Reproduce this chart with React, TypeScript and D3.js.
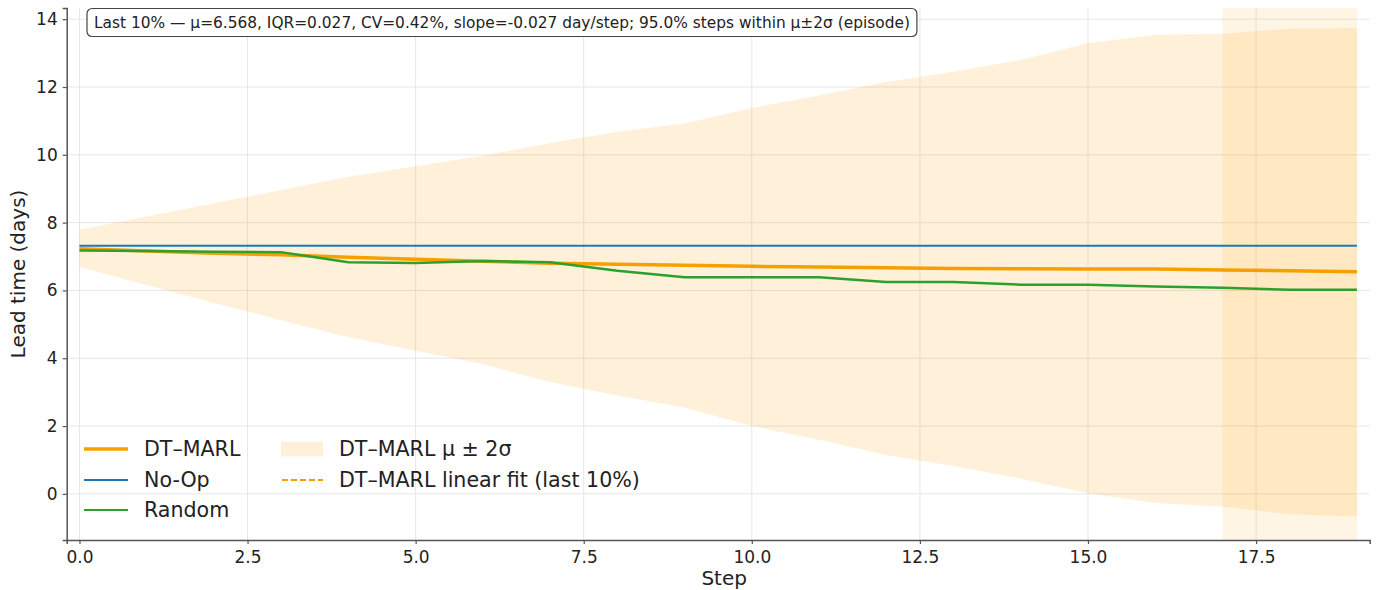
import React, { useEffect, useRef } from 'react';
import * as d3 from 'd3';

const steps = d3.range(0, 20);

// DT-MARL mean lead time per step
const dtMarl = [7.23, 7.16, 7.1, 7.05, 6.98, 6.92, 6.86, 6.8, 6.77, 6.74,
    6.71, 6.69, 6.67, 6.65, 6.64, 6.63, 6.63, 6.6, 6.582, 6.555];

// DT-MARL mu +/- 2 sigma band
const bandUpper = [7.79, 8.18, 8.57, 8.96, 9.35, 9.66, 9.97, 10.35, 10.68, 10.92,
    11.38, 11.75, 12.15, 12.45, 12.8, 13.29, 13.54, 13.57, 13.72, 13.74];
const bandLower = [6.69, 6.16, 5.63, 5.12, 4.62, 4.22, 3.82, 3.3, 2.9, 2.55,
    2.0, 1.6, 1.15, 0.82, 0.45, 0.02, -0.27, -0.37, -0.6, -0.67];

const noOp = steps.map(() => 7.32);

const random = [7.18, 7.16, 7.14, 7.13, 6.83, 6.81, 6.87, 6.83, 6.58, 6.39,
    6.39, 6.39, 6.25, 6.25, 6.17, 6.17, 6.12, 6.08, 6.02, 6.02];

// linear fit over the last 10% of the episode
const fitSteps = [18, 19];
const fitValues = [6.582, 6.555];
const lastWindow = [17, 19];

const xTicks = [0, 2.5, 5, 7.5, 10, 12.5, 15, 17.5];
const yTicks = [0, 2, 4, 6, 8, 10, 12, 14];

const summary = 'Last 10% — μ=6.568, IQR=0.027, CV=0.42%, slope=-0.027 day/step; 95.0% steps within μ±2σ (episode)';

const ORANGE = '#f5a000';
const BLUE = '#1f77b4';
const GREEN = '#2ca02c';
const FONT = 'DejaVu Sans, sans-serif';

export default function App() {
    const svgRef = useRef<SVGSVGElement>(null);

    useEffect(() => {
        if (!svgRef.current) return;
        const svg = d3.select(svgRef.current);
        svg.selectAll('*').remove();

        const x = d3.scaleLinear().domain([-0.19, 19.19]).range([66.7, 1369.7]);
        const y = d3.scaleLinear().domain([-1.36, 14.33]).range([540, 8]);

        const plot = svg.append('g');

        // grid
        plot.append('g').selectAll('line').data(xTicks).enter().append('line')
            .attr('x1', d => x(d)).attr('x2', d => x(d))
            .attr('y1', y.range()[0]).attr('y2', y.range()[1])
            .attr('stroke', '#e6e6e6').attr('stroke-width', 1);
        plot.append('g').selectAll('line').data(yTicks).enter().append('line')
            .attr('x1', x.range()[0]).attr('x2', x.range()[1])
            .attr('y1', d => y(d)).attr('y2', d => y(d))
            .attr('stroke', '#e6e6e6').attr('stroke-width', 1);

        // band
        const area = d3.area<number>()
            .x(d => x(d))
            .y0(d => y(bandLower[d]))
            .y1(d => y(bandUpper[d]));
        plot.append('path').datum(steps).attr('d', area)
            .attr('fill', '#ffa000').attr('fill-opacity', 0.15);

        // last 10% highlight
        plot.append('rect')
            .attr('x', x(lastWindow[0])).attr('width', x(lastWindow[1]) - x(lastWindow[0]))
            .attr('y', y.range()[1]).attr('height', y.range()[0] - y.range()[1])
            .attr('fill', '#ffa000').attr('fill-opacity', 0.1);

        const line = (vals: number[]) => d3.line<number>()
            .x(d => x(d))
            .y(d => y(vals[d]))(steps);

        plot.append('path').attr('d', line(dtMarl)!)
            .attr('fill', 'none').attr('stroke', ORANGE).attr('stroke-width', 3.5);
        plot.append('path').attr('d', line(noOp)!)
            .attr('fill', 'none').attr('stroke', BLUE).attr('stroke-width', 2);
        plot.append('path').attr('d', line(random)!)
            .attr('fill', 'none').attr('stroke', GREEN).attr('stroke-width', 2.5);

        const fitLine = d3.line<number>().x(d => x(fitSteps[d])).y(d => y(fitValues[d]));
        plot.append('path').attr('d', fitLine([0, 1])!)
            .attr('fill', 'none').attr('stroke', ORANGE).attr('stroke-width', 1.5)
            .attr('stroke-dasharray', '6,3');

        // axes
        const xAxis = svg.append('g').attr('transform', `translate(0,${y.range()[0]})`)
            .call(d3.axisBottom(x).tickValues(xTicks).tickFormat(d3.format('.1f')).tickSizeOuter(0).tickSize(4));
        const yAxis = svg.append('g').attr('transform', `translate(${x.range()[0]},0)`)
            .call(d3.axisLeft(y).tickValues(yTicks).tickFormat(d3.format('d')).tickSizeOuter(0).tickSize(4));
        [xAxis, yAxis].forEach(a => {
            a.select('.domain').attr('stroke', '#555').attr('stroke-width', 1.5);
            a.selectAll('.tick line').attr('stroke', '#555').attr('stroke-width', 1.2);
            a.selectAll('.tick text').attr('fill', '#222').style('font-family', FONT).style('font-size', '17px');
        });
        xAxis.selectAll('.tick text').attr('dy', '0.95em').attr('y', 7);
        yAxis.selectAll('.tick text').attr('x', -9);

        svg.append('text')
            .attr('x', (x.range()[0] + x.range()[1]) / 2 + 6).attr('y', 585)
            .attr('text-anchor', 'middle').attr('fill', '#222')
            .style('font-family', FONT).style('font-size', '20px')
            .text('Step');
        svg.append('text')
            .attr('transform', `translate(25,${(y.range()[0] + y.range()[1]) / 2}) rotate(-90)`)
            .attr('text-anchor', 'middle').attr('fill', '#222')
            .style('font-family', FONT).style('font-size', '20px')
            .text('Lead time (days)');

        // summary box
        const box = svg.append('g');
        const txt = box.append('text')
            .attr('x', 94).attr('y', 27.5)
            .attr('fill', '#222')
            .style('font-family', FONT).style('font-size', '15.4px')
            .text(summary);
        const bb = (txt.node() as SVGTextElement).getBBox();
        box.insert('rect', 'text')
            .attr('x', bb.x - 7).attr('y', 8.5)
            .attr('width', bb.width + 14).attr('height', 28)
            .attr('rx', 5).attr('fill', 'white')
            .attr('stroke', '#444').attr('stroke-width', 1.2);

        // legend
        const legend = svg.append('g');
        const rows = [449, 480, 510];
        const legendFont = '20.6px';
        const items = [
            { label: 'DT–MARL', color: ORANGE, width: 3.5, row: 0 },
            { label: 'No-Op', color: BLUE, width: 2, row: 1 },
            { label: 'Random', color: GREEN, width: 2, row: 2 },
        ];
        items.forEach(it => {
            legend.append('line')
                .attr('x1', 84).attr('x2', 128)
                .attr('y1', rows[it.row]).attr('y2', rows[it.row])
                .attr('stroke', it.color).attr('stroke-width', it.width);
            legend.append('text')
                .attr('x', 144).attr('y', rows[it.row]).attr('dy', '0.36em')
                .attr('fill', '#222').style('font-family', FONT).style('font-size', legendFont)
                .text(it.label);
        });
        legend.append('rect')
            .attr('x', 281).attr('y', rows[0] - 7.5).attr('width', 42).attr('height', 15)
            .attr('fill', '#ffa000').attr('fill-opacity', 0.15);
        legend.append('text')
            .attr('x', 339).attr('y', rows[0]).attr('dy', '0.36em')
            .attr('fill', '#222').style('font-family', FONT).style('font-size', legendFont)
            .text('DT–MARL μ ± 2σ');
        legend.append('line')
            .attr('x1', 282).attr('x2', 323)
            .attr('y1', rows[1]).attr('y2', rows[1])
            .attr('stroke', ORANGE).attr('stroke-width', 1.8).attr('stroke-dasharray', '6,3');
        legend.append('text')
            .attr('x', 339).attr('y', rows[1]).attr('dy', '0.36em')
            .attr('fill', '#222').style('font-family', FONT).style('font-size', legendFont)
            .text('DT–MARL linear fit (last 10%)');
    }, []);

    return (
        <svg ref={svgRef} width={1378} height={590}
            style={{ position: 'absolute', left: 0, top: 0, background: 'white' }} />
    );
}
